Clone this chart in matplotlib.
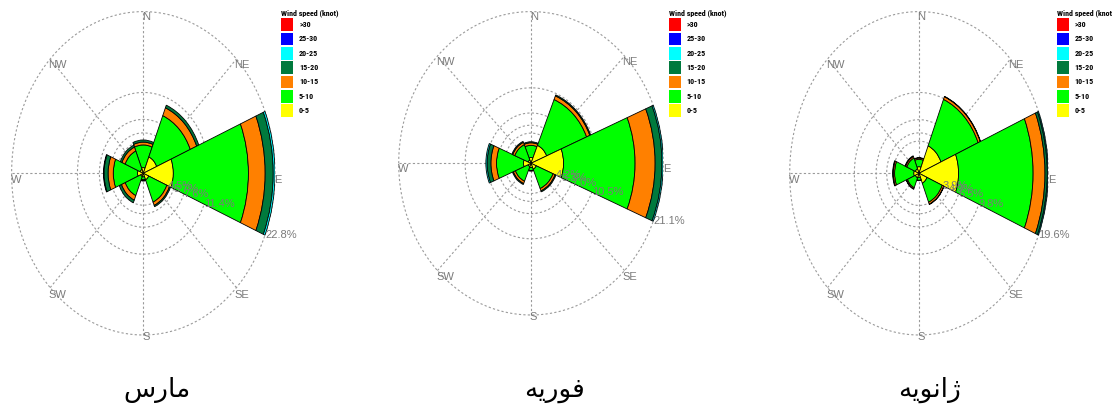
import matplotlib
matplotlib.use('Agg')
import matplotlib.pyplot as plt
from matplotlib.patches import Wedge, Patch
from matplotlib import font_manager
import numpy as np

W_PX, H_PX = 1112, 407

directions = ['N', 'NE', 'E', 'SE', 'S', 'SW', 'W', 'NW']
dir_angles = [90, 45, 0, -45, -90, -135, 180, 135]
speed_bins = ['0-5', '5-10', '10-15', '15-20', '20-25', '25-30', '>30']
bin_colors = ['#FFFF00', '#00FF00', '#FF8000', '#007A3D', '#00FFFF', '#0000FF', '#FF0000']

# frequency (%) per direction, columns follow speed_bins
march = [
    [0.8, 3.2, 0.4, 0.3, 0, 0, 0],     # N
    [2.5, 6.3, 1.2, 0.4, 0, 0, 0],     # NE
    [5.2, 13.0, 2.9, 1.4, 0.3, 0, 0],  # E
    [1.0, 3.4, 0.5, 0.2, 0, 0, 0],     # SE
    [0.5, 0.4, 0.1, 0.1, 0, 0, 0],     # S
    [0.5, 2.9, 0.7, 0.4, 0, 0, 0],     # SW
    [1.0, 4.2, 0.9, 0.7, 0.1, 0, 0],   # W
    [0.6, 2.8, 0.6, 0.3, 0, 0, 0],     # NW
]
february = [
    [0.8, 1.7, 0.35, 0.15, 0, 0, 0],
    [2.7, 6.9, 0.55, 0.15, 0, 0, 0],
    [5.2, 11.4, 3.2, 1.1, 0.2, 0, 0],
    [0.9, 2.9, 0.35, 0.15, 0, 0, 0],
    [0.6, 0.4, 0.1, 0, 0, 0, 0],
    [0.5, 2.2, 0.35, 0.15, 0, 0, 0],
    [1.2, 4.3, 0.9, 0.6, 0.2, 0, 0],
    [0.5, 2.3, 0.35, 0.15, 0, 0, 0],
]
january = [
    [0.8, 0.9, 0.15, 0.05, 0, 0, 0],
    [3.6, 6.1, 0.35, 0.05, 0, 0, 0],
    [6.0, 11.3, 1.8, 0.35, 0.15, 0, 0],
    [1.3, 2.5, 0.25, 0.05, 0, 0, 0],
    [0.5, 0.35, 0.05, 0, 0, 0, 0],
    [0.6, 1.3, 0.15, 0.05, 0, 0, 0],
    [0.8, 2.9, 0.2, 0.1, 0, 0, 0],
    [0.6, 1.4, 0.2, 0.1, 0, 0, 0],
]
ring_labels = [
    ['4.5', '5.7', '7.6', '11.4', '22.8'],
    ['4.2', '5.3', '7.0', '10.5', '21.1'],
    ['3.9', '4.9', '6.5', '9.8', '19.6'],
]
titles = ['مارس', 'فوریه', 'ژانویه']

# panel centre and half-axes in pixels (the roses are squeezed sideways)
panels = [(143.3, 173.3, 131.7, 161.7),
          (531.0, 163.3, 132.3, 151.7),
          (919.0, 173.3, 129.3, 161.7)]
title_x = [157, 554, 930]

# where the compass labels sit, as a fraction of the outer ring
label_pos = {'N': (0.02, 0.965), 'NE': (0.75, 0.67), 'E': (1.025, -0.04),
             'SE': (0.75, -0.75), 'S': (0.02, -1.01), 'SW': (-0.65, -0.75),
             'W': (-0.965, -0.04), 'NW': (-0.65, 0.67)}

# matplotlib does not join Arabic letters, so pick the presentation forms
# (isolated, final, initial, medial) by hand and lay them out right to left
FORMS = {
    'ا': ('\uFE8D', '\uFE8E', None, None),
    'ر': ('\uFEAD', '\uFEAE', None, None),
    'ژ': ('\uFB8A', '\uFB8B', None, None),
    'و': ('\uFEED', '\uFEEE', None, None),
    'م': ('\uFEE1', '\uFEE2', '\uFEE3', '\uFEE4'),
    'س': ('\uFEB1', '\uFEB2', '\uFEB3', '\uFEB4'),
    'ف': ('\uFED1', '\uFED2', '\uFED3', '\uFED4'),
    'ن': ('\uFEE5', '\uFEE6', '\uFEE7', '\uFEE8'),
    'ی': ('\uFBFC', '\uFBFD', '\uFBFE', '\uFBFF'),
    'ه': ('\uFEE9', '\uFEEA', '\uFEEB', '\uFEEC'),
}


def shape(word):
    out = []
    for i, ch in enumerate(word):
        iso, fin, ini, med = FORMS[ch]
        prev_joins = i > 0 and FORMS[word[i - 1]][2] is not None
        next_joins = i < len(word) - 1 and ini is not None
        if prev_joins and next_joins:
            out.append(med)
        elif prev_joins:
            out.append(fin)
        elif next_joins:
            out.append(ini)
        else:
            out.append(iso)
    return ''.join(reversed(out))


grid_col = '#9a9a9a'
text_col = '#7a7a7a'
sans = ['Liberation Sans', 'DejaVu Sans']

# a condensed face for the legend if one is installed
installed = {f.name for f in font_manager.fontManager.ttflist}
narrow = [f for f in ['Liberation Sans Narrow', 'Roboto Condensed',
                      'DejaVu Sans Condensed', 'Liberation Sans'] if f in installed]
leg_title_size = 5.8 if narrow[0] != 'Liberation Sans' else 5.2
leg_size = 5.8 if narrow[0] != 'Liberation Sans' else 5.2

fig = plt.figure(figsize=(W_PX / 100, H_PX / 100), dpi=100)

for data, ticks, (cx, cy, rh, rv), title, tx in zip(
        [march, february, january], ring_labels, panels, titles, title_x):
    ax = fig.add_axes([(cx - rh) / W_PX, (H_PX - cy - rv) / H_PX,
                       2 * rh / W_PX, 2 * rv / H_PX])
    rmax = float(ticks[-1])
    ax.set_xlim(-rmax, rmax)
    ax.set_ylim(-rmax, rmax)
    ax.axis('off')

    t = np.linspace(0, 2 * np.pi, 361)
    for lab in ticks:
        r = float(lab)
        ax.plot(r * np.cos(t), r * np.sin(t), color=grid_col, lw=0.8,
                ls=(0, (2, 2)), clip_on=False, zorder=1)
    for a in [0, 45, 90, 135]:
        c, s = np.cos(np.radians(a)), np.sin(np.radians(a))
        ax.plot([-rmax * c, rmax * c], [-rmax * s, rmax * s], color=grid_col,
                lw=0.8, ls=(0, (2, 2)), clip_on=False, zorder=1)

    for ang, row in zip(dir_angles, data):
        inner = 0.0
        for val, col in zip(row, bin_colors):
            if val <= 0:
                continue
            ax.add_patch(Wedge((0, 0), inner + val, ang - 22.5, ang + 22.5,
                               width=val, facecolor=col, edgecolor='black',
                               lw=0.6, zorder=2))
            inner += val

    a = np.radians(-22.5)
    for lab in ticks:
        r = float(lab)
        ax.text(r * np.cos(a), r * np.sin(a), lab + '%', color=text_col,
                fontsize=8, family=sans, ha='left', va='center', zorder=3)

    for d in directions:
        nx, ny = label_pos[d]
        ax.text(nx * rmax, ny * rmax, d, color=text_col, fontsize=8,
                family=sans, ha='center', va='center', zorder=3)

    handles = [Patch(facecolor=c, edgecolor='none') for c in reversed(bin_colors)]
    ax.legend(handles, list(reversed(speed_bins)), title='Wind speed (knot)',
              loc='upper left', bbox_to_anchor=((cx + 138) / W_PX, 1 - 9 / H_PX),
              bbox_transform=fig.transFigure, frameon=False,
              prop={'family': narrow, 'size': leg_size, 'weight': 'bold'},
              title_fontproperties={'family': narrow, 'size': leg_title_size,
                                    'weight': 'bold'},
              handlelength=1.5, handleheight=2.05, handletextpad=0.7,
              labelspacing=0.2, borderpad=0, borderaxespad=0,
              alignment='left')

    fig.text(tx / W_PX, 1 - 390 / H_PX, shape(title), fontsize=19,
             family='DejaVu Sans', ha='center', va='center')

fig.savefig('out.png', dpi=100)
